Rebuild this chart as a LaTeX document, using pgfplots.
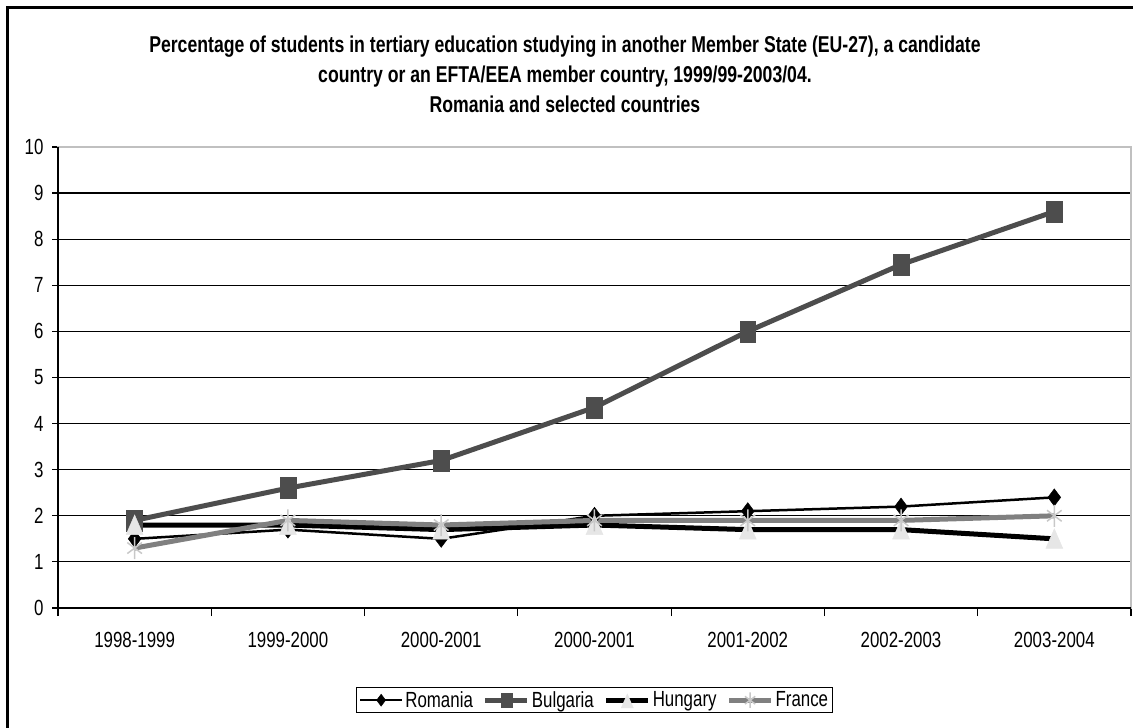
\documentclass[border=0pt]{standalone}
\usepackage{fontspec}
\setmainfont{Liberation Sans}[FakeStretch=0.77]
\usepackage{pgfplots}
\pgfplotsset{compat=1.18}
\definecolor{bulg}{RGB}{77,77,77}
\definecolor{fra}{RGB}{128,128,128}
\definecolor{fraMark}{RGB}{200,200,200}
\definecolor{hunMark}{RGB}{230,230,230}
\definecolor{boxgray}{RGB}{192,192,192}
\begin{document}
\begin{tikzpicture}
\draw[line width=2.5bp] (7.5bp,720.5bp) rectangle (1160bp,-30bp);
\node[align=center, font=\fontsize{23}{30}\selectfont\bfseries] at (565bp,654bp)
 {Percentage of students in tertiary education studying in another Member State (EU-27), a candidate\\
  country or an EFTA/EEA member country, 1999/99-2003/04.\\
  Romania and selected countries};
\begin{axis}[
  name=ax,
  at={(58bp,120bp)}, anchor=south west,
  scale only axis, width=1073bp, height=461bp,
  xmin=-0.5, xmax=6.5, ymin=0, ymax=10,
  xtick={0,...,6},
  xticklabels={1998-1999,1999-2000,2000-2001,2000-2001,2001-2002,2002-2003,2003-2004},
  minor xtick={-0.5,0.5,...,6.5},
  ytick={0,...,10},
  ymajorgrids, major grid style={black, line width=1.2bp},
  tick align=outside, tick pos=left,
  major x tick style={draw=none},
  minor x tick style={black, line width=1.2bp},
  minor tick length=8bp, major tick length=6bp,
  y tick style={black, line width=1.2bp},
  axis line style={boxgray, line width=1.5bp},
  ticklabel style={font=\fontsize{22}{26}\selectfont},
  xticklabel style={yshift=-15bp},
  yticklabel style={xshift=-5bp},
  /pgf/number format/assume math mode=true,
  legend style={at={(0.5,-0.2)}, anchor=center, draw=black, line width=1bp,
    font=\fontsize{22}{26}\selectfont, inner sep=2bp,
    /tikz/every even column/.append style={column sep=8bp}},
  legend columns=-1,
  legend image code/.code={\draw[mark repeat=2,mark phase=2] plot coordinates {(0bp,0bp) (21bp,0bp) (42bp,0bp)};},
  legend image post style={/tikz/every mark/.append style={scale=0.7}},
]
\addplot[black, line width=2.5bp, mark=diamond*, mark size=8.5bp, mark options={fill=black, line width=0.5bp}]
  coordinates {(0,1.5) (1,1.7) (2,1.5) (3,2.0) (4,2.1) (5,2.2) (6,2.4)};
\addlegendentry{Romania}
\addplot[bulg, line width=5bp, mark=square*, mark size=10.5bp, mark options={xscale=0.76, fill=bulg, line width=0.5bp}]
  coordinates {(0,1.9) (1,2.6) (2,3.2) (3,4.35) (4,6.0) (5,7.45) (6,8.6)};
\addlegendentry{Bulgaria}
\addplot[black, line width=5bp, mark=triangle*, mark size=13bp, mark options={yshift=-3bp, xscale=0.75, draw=hunMark, fill=hunMark, line width=0.5bp}]
  coordinates {(0,1.8) (1,1.8) (2,1.7) (3,1.8) (4,1.7) (5,1.7) (6,1.5)};
\addlegendentry{Hungary}
\addplot[fra, line width=5bp, mark=asterisk, mark size=11bp, mark options={xscale=0.77, draw=fraMark, line width=1.5bp}]
  coordinates {(0,1.3) (1,1.9) (2,1.8) (3,1.9) (4,1.9) (5,1.9) (6,2.0)};
\addlegendentry{France}
\end{axis}
\draw[black, line width=1.5bp] (ax.north west) -- (ax.south west) -- (ax.south east);
\pgfresetboundingbox
\path[use as bounding box] (0bp,0bp) rectangle (1133bp,728bp);
\end{tikzpicture}
\end{document}
